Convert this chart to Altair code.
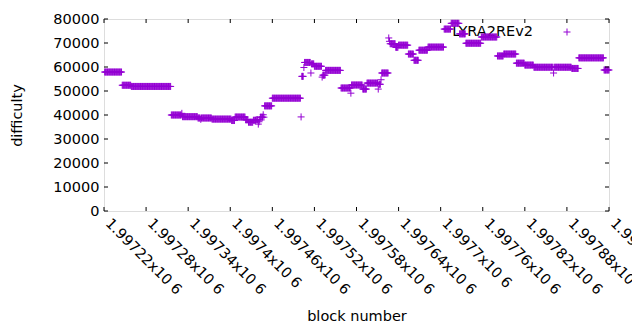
import json
import altair as alt
import pandas as pd

series_name = "LYRA2REv2"

# runs of constant difficulty: first block, last block, difficulty
run_first = [1997221, 1997246, 1997259, 1997316, 1997331, 1997332, 1997354, 1997358, 1997359, 1997374,
             1997402, 1997407, 1997422, 1997426, 1997433, 1997437, 1997440, 1997441, 1997442, 1997443,
             1997447, 1997448, 1997449, 1997460, 1997501, 1997502, 1997505, 1997506, 1997515, 1997516,
             1997520, 1997531, 1997532, 1997536, 1997558, 1997572, 1997573, 1997589, 1997595, 1997611,
             1997612, 1997615, 1997616, 1997626, 1997627, 1997628, 1997636, 1997640, 1997654, 1997662,
             1997669, 1997682, 1997705, 1997715, 1997727, 1997736, 1997758, 1997781, 1997790, 1997808,
             1997820, 1997833, 1997861, 1997862, 1997887, 1997897, 1997933]
run_last = [1997245, 1997258, 1997315, 1997330, 1997331, 1997353, 1997357, 1997358, 1997373, 1997401,
            1997406, 1997421, 1997425, 1997432, 1997436, 1997439, 1997440, 1997441, 1997442, 1997446,
            1997447, 1997448, 1997459, 1997500, 1997501, 1997504, 1997505, 1997514, 1997515, 1997519,
            1997530, 1997531, 1997535, 1997557, 1997571, 1997572, 1997588, 1997594, 1997610, 1997611,
            1997614, 1997615, 1997625, 1997626, 1997627, 1997635, 1997639, 1997653, 1997661, 1997668,
            1997681, 1997704, 1997714, 1997726, 1997735, 1997757, 1997780, 1997789, 1997807, 1997819,
            1997832, 1997860, 1997861, 1997886, 1997896, 1997932, 1997940]
run_difficulty = [57900, 52400, 51900, 40000, 40700, 39300, 38750, 38200, 38750, 38300,
                  37700, 39150, 38000, 37000, 37800, 38000, 36200, 37200, 38000, 39100,
                  40100, 39100, 43800, 47000, 39200, 56100, 59800, 61900, 57500, 61300,
                  60300, 55800, 56600, 58600, 51250, 49100, 52500, 50800, 53300, 50800,
                  52800, 54700, 57500, 72100, 70700, 69700, 68200, 69100, 65400, 62800,
                  67000, 68300, 75800, 78200, 73800, 69900, 72500, 64600, 65400, 61600,
                  60800, 59900, 57500, 59900, 59400, 63800, 58750]

x_ticks = [1997220, 1997280, 1997340, 1997400, 1997460, 1997520, 1997580,
           1997640, 1997700, 1997760, 1997820, 1997880, 1997940]
x_tick_labels = ["1.99722x10 6", "1.99728x10 6", "1.99734x10 6", "1.9974x10 6", "1.99746x10 6",
                 "1.99752x10 6", "1.99758x10 6", "1.99764x10 6", "1.9977x10 6", "1.99776x10 6",
                 "1.99782x10 6", "1.99788x10 6", "1.99794x10 6"]
y_ticks = [0, 10000, 20000, 30000, 40000, 50000, 60000, 70000, 80000]

rows = []
for first, last, v in zip(run_first, run_last, run_difficulty):
    for blk in range(first, last + 1):
        rows.append({"block": blk, "difficulty": v})
df = pd.DataFrame(rows)
legend_df = pd.DataFrame({"series": [series_name]})
xt_df = pd.DataFrame({"block": x_ticks})
yt_df = pd.DataFrame({"difficulty": y_ticks})

FONT = "DejaVu Sans"
FS = 14.5
W, H = 505, 192
PURPLE = "#9400D3"
PLUS = "M-1,0L1,0M0,-1L0,1"
TL = 4

xscale = alt.Scale(domain=[x_ticks[0], x_ticks[-1]], nice=False, zero=False)
yscale = alt.Scale(domain=[y_ticks[0], y_ticks[-1]], nice=False, zero=True)

label_expr = (json.dumps(x_tick_labels, ensure_ascii=False)
              + "[indexof(" + json.dumps(x_ticks) + ", datum.value)]")

xaxis = alt.Axis(values=x_ticks, labelExpr=label_expr, tickSize=0, ticks=False, domain=False,
                 grid=False, labelAngle=45, labelAlign="left", labelBaseline="middle",
                 labelPadding=10, labelOffset=3, labelFont=FONT, labelFontSize=FS,
                 labelColor="black", labelOverlap=False, labelFlush=False,
                 title="block number", titleFont=FONT, titleFontSize=FS,
                 titleFontWeight="normal", titleColor="black", titleX=W / 2, titleY=109,
                 titleBaseline="alphabetic", titleAlign="center")
yaxis = alt.Axis(values=y_ticks, format="d", tickSize=0, ticks=False, domain=False, grid=False,
                 labelPadding=5, labelFont=FONT, labelFontSize=FS, labelColor="black",
                 labelBaseline="middle", labelOverlap=False, labelFlush=False,
                 title="difficulty", titleFont=FONT, titleFontSize=FS,
                 titleFontWeight="normal", titleColor="black", titleAngle=270,
                 titleX=-83, titleY=H / 2, titleBaseline="alphabetic", titleAlign="center")

X = alt.X("block:Q", scale=xscale, axis=xaxis)
Y = alt.Y("difficulty:Q", scale=yscale, axis=yaxis)

legend_text = alt.Chart(legend_df).mark_text(
    align="right", baseline="middle", font=FONT, fontSize=FS, color="black"
).encode(x=alt.value(429), y=alt.value(13), text="series:N")

points = alt.Chart(df).mark_point(
    shape=PLUS, filled=False, size=49, strokeWidth=1, color=PURPLE, opacity=1
).encode(x=X, y=Y)

legend_point = alt.Chart(legend_df).mark_point(
    shape=PLUS, filled=False, size=49, strokeWidth=1, color=PURPLE, opacity=1
).encode(x=alt.value(463), y=alt.value(13))

xt_bottom = alt.Chart(xt_df).mark_rule(color="black", strokeWidth=1).encode(
    x=X, y=alt.value(H), y2=alt.value(H - TL))
xt_top = alt.Chart(xt_df).mark_rule(color="black", strokeWidth=1).encode(
    x=X, y=alt.value(0), y2=alt.value(TL))
yt_left = alt.Chart(yt_df).mark_rule(color="black", strokeWidth=1).encode(
    y=Y, x=alt.value(0), x2=alt.value(TL))
yt_right = alt.Chart(yt_df).mark_rule(color="black", strokeWidth=1).encode(
    y=Y, x=alt.value(W), x2=alt.value(W - TL))

chart = alt.layer(
    legend_text, points, legend_point, xt_bottom, xt_top, yt_left, yt_right
).properties(
    width=W, height=H,
    autosize=alt.AutoSizeParams(type="none"),
    padding={"left": 96, "top": 11, "right": 23, "bottom": 115},
).configure_view(stroke="black", strokeWidth=1).configure(background="white")

chart.save("out.html", embed_options={"renderer": "svg", "actions": False})
